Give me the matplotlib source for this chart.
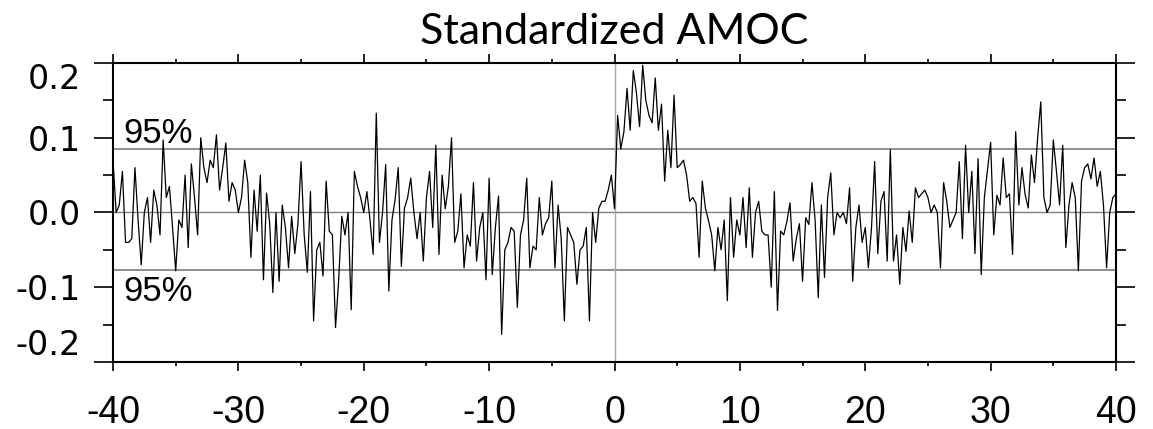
import numpy as np
import matplotlib.pyplot as plt
from matplotlib.ticker import MultipleLocator

plt.rcParams['axes.unicode_minus'] = False

# lagged correlation, every 0.25 of lag
corr_m40_m30 = [0.07, 0.00, 0.01, 0.055, -0.04, -0.04, -0.035, 0.06,
                -0.01, -0.07, 0.00, 0.02, -0.04, 0.03, 0.01, -0.03,
                0.097, 0.02, 0.035, -0.02, -0.078, -0.01, -0.02, 0.05,
                -0.047, 0.065, 0.02, -0.03, 0.10, 0.06, 0.04, 0.07,
                0.06, 0.104, 0.03, 0.06, 0.093, 0.015, 0.04, 0.03]
corr_m30_m20 = [0.0, 0.02, 0.07, 0.04, -0.06, 0.03, -0.025, 0.05,
                -0.09, 0.026, -0.015, -0.107, 0.0, -0.092, 0.01, -0.02,
                -0.074, -0.005, -0.055, -0.015, 0.068, -0.03, -0.08, 0.028,
                -0.145, -0.05, -0.04, -0.085, 0.042, -0.025, -0.03, -0.154,
                -0.09, -0.005, -0.03, 0.0, -0.13, 0.055, 0.035, 0.02]
corr_m20_m10 = [0.0, 0.028, -0.01, -0.056, 0.133, -0.04, 0.0, 0.064,
                -0.105, -0.01, 0.017, 0.06, -0.072, 0.006, 0.02, 0.046,
                0.0, -0.035, 0.0, -0.065, 0.02, 0.055, -0.02, 0.09,
                -0.056, 0.05, 0.005, 0.035, 0.1, -0.04, -0.025, 0.025,
                -0.074, -0.03, -0.045, 0.04, -0.065, -0.02, 0.0, -0.09]
corr_m10_0 = [0.046, -0.083, -0.02, 0.022, -0.163, -0.05, -0.04, -0.02,
              -0.025, -0.127, -0.03, -0.01, 0.046, -0.074, -0.045, -0.05,
              0.02, -0.03, -0.015, -0.007, 0.042, -0.074, 0.01, -0.035,
              -0.145, -0.02, -0.03, -0.04, -0.096, -0.05, -0.045, -0.02,
              -0.145, 0.0, -0.04, 0.006, 0.015, 0.015, 0.03, 0.05]
corr_0_10 = [0.005, 0.13, 0.085, 0.108, 0.166, 0.11, 0.19, 0.16,
             0.115, 0.197, 0.15, 0.13, 0.12, 0.18, 0.11, 0.145,
             0.042, 0.11, 0.06, 0.157, 0.06, 0.064, 0.07, 0.05,
             0.015, 0.02, 0.012, -0.06, 0.042, 0.006, -0.011, -0.03,
             -0.078, -0.02, -0.05, -0.01, -0.118, 0.02, -0.06, -0.01]
corr_10_20 = [-0.03, 0.02, -0.047, 0.033, -0.06, 0.0, 0.015, -0.025,
              -0.03, -0.03, -0.1, 0.028, -0.131, -0.025, -0.03, -0.012,
              0.013, -0.065, -0.035, -0.015, -0.092, -0.007, -0.016, 0.04,
              -0.01, -0.114, 0.01, -0.087, 0.02, 0.053, -0.03, 0.0,
              -0.007, 0.0, -0.015, 0.033, -0.092, -0.02, 0.01, -0.04]
corr_20_30 = [-0.02, -0.074, -0.02, 0.068, -0.055, 0.015, 0.028, -0.065,
              0.084, -0.065, -0.03, -0.096, -0.02, -0.052, 0.002, -0.04,
              0.033, 0.02, 0.025, 0.03, 0.02, 0.0, 0.01, 0.0,
              -0.074, 0.04, 0.015, -0.02, -0.01, 0.0, 0.068, -0.035,
              0.09, 0.0, 0.055, -0.055, 0.072, -0.083, 0.02, 0.057]
corr_30_40 = [0.094, -0.03, 0.023, 0.01, 0.073, 0.02, 0.025, -0.056,
              0.108, 0.01, 0.06, 0.024, 0.006, 0.077, 0.04, 0.1,
              0.148, 0.02, 0.0, 0.01, 0.097, 0.055, 0.01, 0.09,
              -0.047, 0.01, 0.04, 0.02, -0.078, 0.042, 0.06, 0.065,
              0.045, 0.073, 0.035, 0.055, 0.01, -0.074, 0.0, 0.02, 0.025]

corr = np.array(corr_m40_m30 + corr_m30_m20 + corr_m20_m10 + corr_m10_0
                + corr_0_10 + corr_10_20 + corr_20_30 + corr_30_40)
lag = np.linspace(-40, 40, len(corr))

sig_upper = 0.085
sig_lower = -0.077

fig = plt.figure(figsize=(11.53, 4.29), dpi=100)
ax = fig.add_axes([113 / 1153, 67 / 429, 1003 / 1153, 299 / 429])

# reference lines
ax.axhline(0, color='#808080', lw=1.0, zorder=1)
ax.axhline(sig_upper, color='#707070', lw=1.1, zorder=1)
ax.axhline(sig_lower, color='#707070', lw=1.1, zorder=1)
ax.axvline(0, color='#a8a8a8', lw=1.0, zorder=1)

ax.plot(lag, corr, color='black', lw=0.9, zorder=2)

ax.text(-39.2, 0.0935, '95%', fontfamily='Liberation Sans', fontsize=25,
        va='baseline', ha='left')
ax.text(-39.2, -0.1187, '95%', fontfamily='Liberation Sans', fontsize=25,
        va='baseline', ha='left')

ax.set_xlim(-40, 40)
ax.set_ylim(-0.2, 0.2)
ax.xaxis.set_major_locator(MultipleLocator(10))
ax.xaxis.set_minor_locator(MultipleLocator(5))
ax.yaxis.set_major_locator(MultipleLocator(0.1))
ax.yaxis.set_minor_locator(MultipleLocator(0.05))
ax.yaxis.set_major_formatter(lambda v, pos: f'{v:.1f}'.replace('-0.0', '0.0'))

for s in ax.spines.values():
    s.set_linewidth(1.5)

ax.tick_params(axis='x', which='both', direction='out', top=True, width=1.2,
               labelsize=27, labelfontfamily='Liberation Sans', pad=17)
ax.tick_params(axis='x', which='major', length=6.5)
ax.tick_params(axis='x', which='minor', length=3)
ax.tick_params(axis='y', which='both', direction='out', right=True, width=1.2,
               labelsize=24, labelfontfamily='DejaVu Sans', pad=9)
ax.tick_params(axis='y', which='major', length=14)
ax.tick_params(axis='y', which='minor', length=7)

ax.set_title('Standardized AMOC', fontfamily='Lato', fontsize=31, pad=14)

# end labels on the y axis are pulled inside the frame
fig.canvas.draw()
for t in ax.yaxis.get_major_ticks():
    if abs(t.get_loc() - 0.2) < 1e-6:
        t.label1.set_va('top')
    elif abs(t.get_loc() + 0.2) < 1e-6:
        t.label1.set_va('bottom')

fig.savefig('out.png', dpi=100)
